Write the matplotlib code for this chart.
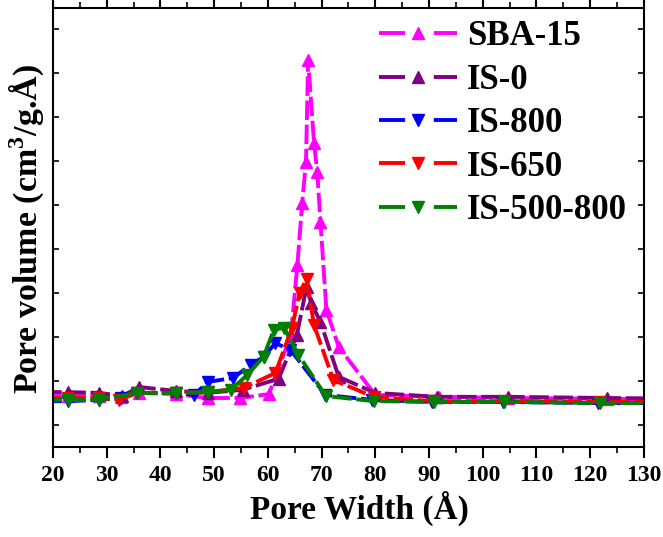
import matplotlib
matplotlib.use("Agg")
import matplotlib.pyplot as plt
import numpy as np
from matplotlib.ticker import MultipleLocator, FixedLocator
from matplotlib.lines import Line2D

plt.rcParams['font.family'] = ['Liberation Serif', 'DejaVu Serif']
plt.rcParams['font.weight'] = 'bold'
plt.rcParams['mathtext.fontset'] = 'custom'
plt.rcParams['mathtext.rm'] = 'Liberation Serif:bold'
plt.rcParams['mathtext.bf'] = 'Liberation Serif:bold'

# ---- data (arbitrary pore-volume units) ----
sba15_x = [18, 22.7, 28.6, 32.6, 36.0, 42.9, 48.8, 54.9, 60.2, 64.3, 65.5, 66.4, 67.1, 67.5,
           68.6, 69.2, 69.8, 70.9, 73.2, 80.0, 91.8, 104.8, 123.1, 140]
sba15_y = [0.010, 0.010, 0.010, 0.008, 0.018, 0.015, 0.005, 0.005, 0.015, 0.166, 0.344, 0.503,
           0.607, 0.867, 0.656, 0.582, 0.454, 0.230, 0.135, 0.013, 0.008, 0.005, 0.003, 0.000]

is0_x = [18, 22.7, 28.6, 32.9, 36.0, 42.9, 48.8, 55.3, 62.0, 65.4, 67.2, 68.1, 69.8, 73.2,
         80.0, 91.5, 104.8, 123.1, 140]
is0_y = [0.020, 0.020, 0.018, 0.010, 0.033, 0.023, 0.018, 0.026, 0.054, 0.166, 0.288, 0.247,
         0.199, 0.059, 0.018, 0.008, 0.008, 0.005, 0.003]

is800_x = [18, 22.7, 28.6, 32.6, 35.7, 42.9, 46.3, 48.8, 53.5, 56.8, 59.2, 61.4, 64.2, 70.7,
           79.4, 90.6, 103.8, 121.4, 140]
is800_y = [-0.003, -0.003, 0.000, 0.005, 0.018, 0.018, 0.013, 0.046, 0.056, 0.089, 0.110, 0.145,
           0.128, 0.013, 0.000, -0.005, -0.005, -0.008, -0.008]

is650_x = [18, 22.7, 28.6, 32.3, 35.7, 42.9, 48.8, 55.6, 61.4, 64.5, 65.9, 67.2, 68.6, 72.2,
           79.7, 90.8, 103.9, 121.6, 140]
is650_y = [0.005, 0.005, 0.005, 0.000, 0.018, 0.018, 0.020, 0.031, 0.069, 0.184, 0.273, 0.309,
           0.191, 0.051, 0.008, -0.003, -0.003, -0.005, -0.005]

is500_x = [18, 22.7, 28.6, 35.7, 42.9, 48.8, 53.1, 56.2, 59.2, 61.1, 63.0, 65.7, 70.8, 79.7,
           90.9, 103.9, 121.8, 140]
is500_y = [0.000, 0.000, 0.000, 0.018, 0.018, 0.020, 0.026, 0.064, 0.110, 0.179, 0.184, 0.115,
           0.010, -0.003, -0.005, -0.005, -0.008, -0.008]

series = [
    ("SBA-15", sba15_x, sba15_y, "#FF00FF", "^"),
    ("IS-0", is0_x, is0_y, "#800080", "^"),
    ("IS-800", is800_x, is800_y, "#0000FF", "v"),
    ("IS-650", is650_x, is650_y, "#FF0000", "v"),
    ("IS-500-800", is500_x, is500_y, "#008000", "v"),
]

fig = plt.figure(figsize=(6.63, 5.37), dpi=100)
ax = fig.add_axes([0.080, 0.1676, 0.891, 0.8175])

LW = 2.8
handles = []
for name, x, y, c, m in series:
    ax.plot(x, y, color=c, marker=m, markersize=9, linewidth=LW,
            linestyle=(0, (5, 1.2)), clip_on=True)
    handles.append(Line2D([], [], color=c, marker=m, markersize=8, linewidth=LW,
                          linestyle=(0, (6.7, 7.4)), label=name))

ax.set_xlim(20, 130)
ax.set_ylim(-0.120, 1.0)
ax.xaxis.set_major_locator(MultipleLocator(10))
ax.xaxis.set_minor_locator(MultipleLocator(5))
ax.yaxis.set_major_locator(FixedLocator(np.arange(-0.064, 1.0, 0.1122)))
ax.set_yticklabels([])

ax.tick_params(axis='x', which='major', direction='out', length=8, width=1.5,
               labelsize=17, pad=5, top=True)
ax.tick_params(axis='x', which='minor', direction='out', length=4, width=1.2, top=True)
ax.tick_params(axis='y', which='major', direction='in', length=4, width=1.2, right=True)
for lab in ax.get_xticklabels():
    lab.set_fontweight('bold')
for sp in ax.spines.values():
    sp.set_linewidth(1.5)

ax.set_xlabel("Pore Width (Å)", fontsize=24, fontweight='bold')
ax.xaxis.set_label_coords(0.519, -0.10)
ax.set_ylabel("Pore volume (cm$^3$/g.Å)", fontsize=24.5, fontweight='bold')
ax.yaxis.set_label_coords(-0.010, 0.497)

leg = ax.legend(handles=handles, loc='upper left', bbox_to_anchor=(0.5516, 0.972),
                frameon=False, handlelength=2.25, numpoints=1,
                labelspacing=0.30, handletextpad=0.29, borderpad=0, borderaxespad=0,
                prop={'weight': 'bold', 'size': 25})

fig.savefig("out.png", dpi=100)
